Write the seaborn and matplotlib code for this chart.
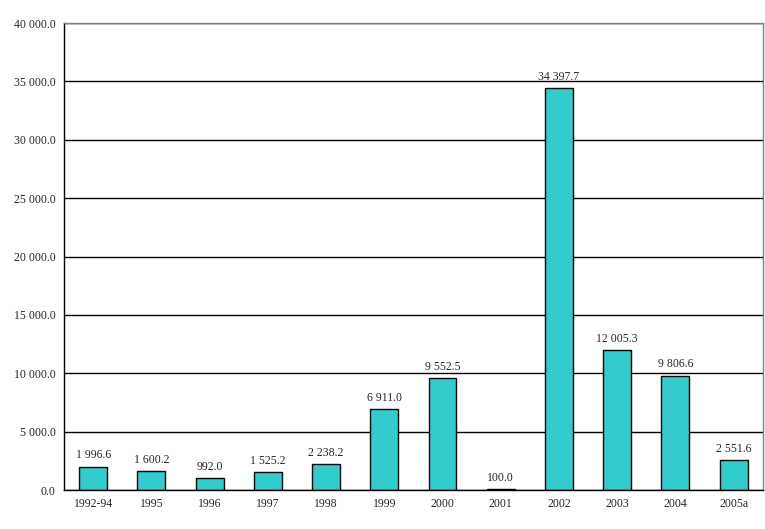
import numpy as np
import pandas as pd
import matplotlib
matplotlib.use("Agg")
import matplotlib.pyplot as plt
import seaborn as sns

# Data
years = ["1992-94", "1995", "1996", "1997", "1998", "1999", "2000",
         "2001", "2002", "2003", "2004", "2005a"]
values = [1996.6, 1600.2, 992.0, 1525.2, 2238.2, 6911.0, 9552.5,
          100.0, 34397.7, 12005.3, 9806.6, 2551.6]

df = pd.DataFrame({"Year": years, "Value": values})

def fmt(v):
    return f"{v:,.1f}".replace(",", " ")

sns.set_style("white")
plt.rcParams["font.family"] = ["Liberation Serif", "DejaVu Serif"]

fig = plt.figure(figsize=(7.65, 5.29), dpi=100)
ax = fig.add_axes([0.0837, 0.0737, 0.9133, 0.8828])

sns.barplot(data=df, x="Year", y="Value", color="#33CCCC", width=0.48,
            edgecolor="black", linewidth=1, saturation=1, ax=ax)

ax.set_ylim(0, 40000)
ax.set_xlim(-0.5, len(years) - 0.5)
yt = np.arange(0, 40001, 5000)
ax.set_yticks(yt)
ax.set_yticklabels([fmt(t) for t in yt])
ax.yaxis.grid(True, color="black", linewidth=1)
ax.set_axisbelow(True)

# category labels under bars, ticks at boundaries
ax.set_xticks(np.arange(len(years)), minor=True)
ax.set_xticklabels(years, minor=True)
ax.set_xticks(np.arange(-0.5, len(years) + 0.5, 1))
ax.set_xticklabels([])
ax.tick_params(axis="x", which="minor", length=0, pad=6, labelsize=8.5)
ax.tick_params(axis="x", which="major", length=4, width=1, direction="out", color="black")
ax.tick_params(axis="y", length=4, width=1, direction="out", color="black", pad=2, labelsize=8.5)

ax.set_xlabel("")
ax.set_ylabel("")

for s in ["left", "bottom"]:
    ax.spines[s].set_color("black")
    ax.spines[s].set_linewidth(1)
for s in ["top", "right"]:
    ax.spines[s].set_color("#808080")
    ax.spines[s].set_linewidth(1)

for i, v in enumerate(values):
    ax.text(i, v + 450, fmt(v), ha="center", va="bottom", fontsize=8.5)

fig.savefig("out.png", dpi=100)
